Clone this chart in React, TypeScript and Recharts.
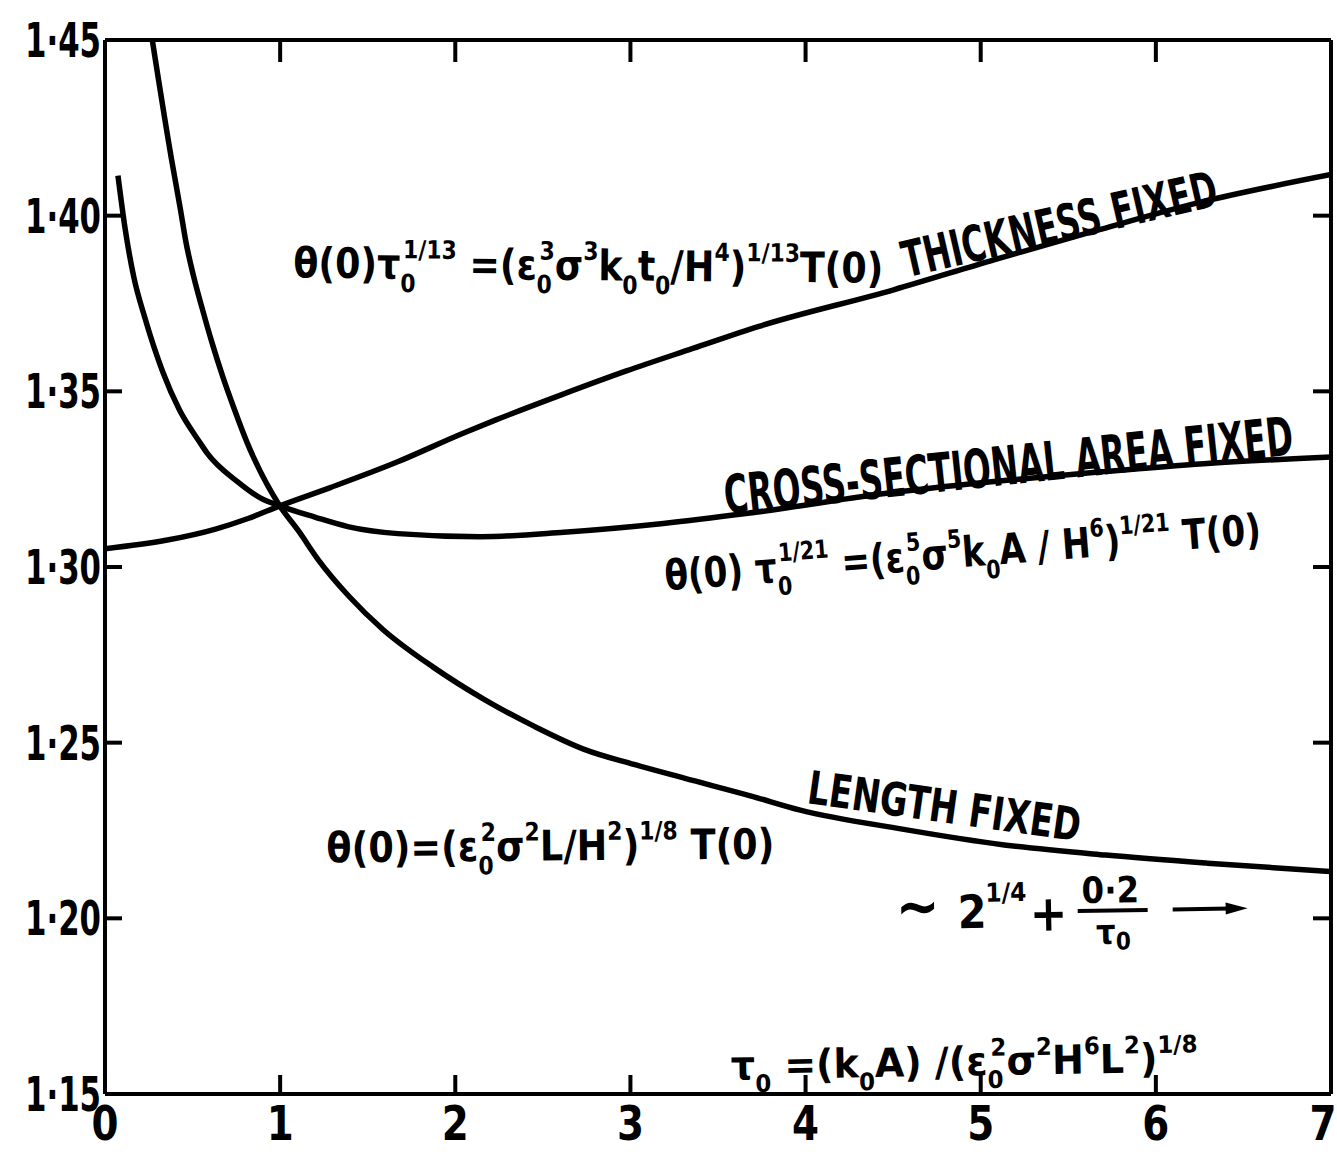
import React from "react";
import { LineChart, Line, XAxis, YAxis, ReferenceDot } from "recharts";

// axis ticks
const xTicks = [0, 1, 2, 3, 4, 5, 6, 7];
const yTicks = [1.15, 1.2, 1.25, 1.3, 1.35, 1.4, 1.45];
const yTickLabels = ["1·15", "1·20", "1·25", "1·30", "1·35", "1·40", "1·45"];

// thickness fixed
const thicknessX = [0, 0.348, 0.631, 0.817, 0.998, 1.286, 1.664, 2.041, 2.228, 2.605, 2.977, 3.356, 3.734, 4.503, 5.08, 5.662, 6.245, 7.0];
const thicknessY = [1.3052, 1.3076, 1.3108, 1.3138, 1.3174, 1.3226, 1.3298, 1.338, 1.3418, 1.349, 1.3558, 1.3622, 1.3685, 1.3789, 1.3875, 1.3958, 1.4037, 1.4117];

// cross-sectional area fixed
const areaX = [0.074, 0.114, 0.165, 0.226, 0.33, 0.424, 0.541, 0.582, 0.756, 0.889, 0.998, 1.198, 1.386, 1.672, 2.144, 2.62, 3.188, 3.659, 4.526, 5.105, 5.689, 6.273, 7.0];
const areaY = [1.4114, 1.3966, 1.3824, 1.3712, 1.3555, 1.3448, 1.3355, 1.3325, 1.3243, 1.3196, 1.3174, 1.3142, 1.3115, 1.3095, 1.3086, 1.3099, 1.3124, 1.3152, 1.3214, 1.3245, 1.3271, 1.3294, 1.3313];

// length fixed
const lengthX = [0.27, 0.38, 0.431, 0.4625, 0.506, 0.556, 0.61, 0.671, 0.737, 0.809, 0.851, 0.998, 1.103, 1.22, 1.394, 1.585, 1.874, 2.162, 2.449, 2.736, 3.021, 3.307, 3.69, 3.97, 4.552, 5.134, 5.714, 6.295, 7.0];
const lengthY = [1.45, 1.416, 1.4017, 1.3924, 1.3827, 1.3734, 1.364, 1.3544, 1.3451, 1.3357, 1.3309, 1.3174, 1.3104, 1.3019, 1.2916, 1.2823, 1.2715, 1.2624, 1.2547, 1.2481, 1.2438, 1.2399, 1.2348, 1.2308, 1.2254, 1.2209, 1.218, 1.2157, 1.2133];

const FONT = "'Liberation Sans Narrow', 'DejaVu Sans Condensed', 'Arial Narrow', sans-serif";

type Tok = { t: string; k?: "sup" | "sub"; back?: number };

// builds tspans with raised / lowered pieces
function toks(list: Tok[], base: number) {
  let cur = 0;
  return list.map((tk, i) => {
    const target = tk.k === "sup" ? -base * 0.48 : tk.k === "sub" ? base * 0.32 : 0;
    const dy = target - cur;
    cur = target;
    return (
      <tspan key={i} dy={dy || undefined} dx={tk.back ? -tk.back : undefined} fontSize={tk.k ? base * 0.6 : base}>
        {tk.t}
      </tspan>
    );
  });
}

const thickEq: Tok[] = [
  { t: "θ(0)τ" }, { t: "0", k: "sub" }, { t: "1/13", k: "sup", back: 13 },
  { t: "  =(ε" }, { t: "0", k: "sub" }, { t: "3", k: "sup", back: 13 },
  { t: "σ" }, { t: "3", k: "sup" }, { t: "k" }, { t: "0", k: "sub" },
  { t: "t" }, { t: "0", k: "sub" }, { t: "/H" }, { t: "4", k: "sup" },
  { t: ")" }, { t: "1/13", k: "sup" }, { t: "T(0)" },
];
const areaEq: Tok[] = [
  { t: "θ(0) τ" }, { t: "0", k: "sub" }, { t: "1/21", k: "sup", back: 13 },
  { t: " =(ε" }, { t: "0", k: "sub" }, { t: "5", k: "sup", back: 13 },
  { t: "σ" }, { t: "5", k: "sup" }, { t: "k" }, { t: "0", k: "sub" },
  { t: "A / H" }, { t: "6", k: "sup" }, { t: ")" }, { t: "1/21", k: "sup" }, { t: " T(0)" },
];
const lengthEq: Tok[] = [
  { t: "θ(0)=(ε" }, { t: "0", k: "sub" }, { t: "2", k: "sup", back: 13 },
  { t: "σ" }, { t: "2", k: "sup" }, { t: "L/H" }, { t: "2", k: "sup" },
  { t: ")" }, { t: "1/8", k: "sup" }, { t: " T(0)" },
];
const tauEq: Tok[] = [
  { t: "τ" }, { t: "0", k: "sub" }, { t: " =(k" }, { t: "0", k: "sub" },
  { t: "A) /(ε" }, { t: "0", k: "sub" }, { t: "2", k: "sup", back: 12 },
  { t: "σ" }, { t: "2", k: "sup" }, { t: "H" }, { t: "6", k: "sup" },
  { t: "L" }, { t: "2", k: "sup" }, { t: ")" }, { t: "1/8", k: "sup" },
];

const Eq = ({ list, size, width }: { list: Tok[]; size: number; width: number }) => (
  <text x={0} y={0} fontFamily={FONT} fontWeight="bold" fontSize={size} fill="#000" textLength={width} lengthAdjust="spacingAndGlyphs">
    {toks(list, size)}
  </text>
);

const Caps = ({ text, size, width }: { text: string; size: number; width: number }) => (
  <text x={0} y={0} fontFamily={FONT} fontWeight="bold" fontSize={size} fill="#000" textLength={width} lengthAdjust="spacingAndGlyphs">
    {text}
  </text>
);

const Asymptote = () => (
  <g fontFamily={FONT} fontWeight="bold" fill="#000">
    <text x={-4} y={-2} fontSize={60} textLength={44} lengthAdjust="spacingAndGlyphs">~</text>
    <text x={58} y={0} fontSize={46}>2</text>
    <text x={86} y={-26} fontSize={26}>1/4</text>
    <text x={130} y={4} fontSize={50}>+</text>
    <text x={211} y={-23} fontSize={36} textAnchor="middle">0·2</text>
    <line x1={178} x2={248} y1={-15} y2={-15} stroke="#000" strokeWidth={4} />
    <text x={196} y={18} fontSize={34}>
      τ<tspan fontSize={24} dy={6}>0</tspan>
    </text>
    <line x1={273} x2={330} y1={-15} y2={-15} stroke="#000" strokeWidth={4} />
    <polygon points="326,-21 348,-15 326,-9" fill="#000" />
  </g>
);

const note = (node: React.ReactNode, angle = 0) => (p: any) => (
  <g transform={`translate(${p.cx},${p.cy}) rotate(${angle})`}>{node}</g>
);

const BottomTick = (props: any) => {
  const { x, y, payload } = props;
  const v = payload.value;
  return (
    <g>
      {v > 0 && v < 7 && <line x1={x} x2={x} y1={y} y2={y - 19} stroke="#000" strokeWidth={4} />}
      <text x={v === 7 ? x - 8 : x} y={y + 46} textAnchor="middle" fontFamily={FONT} fontWeight="bold" fontSize={48} fill="#000" textLength={27} lengthAdjust="spacingAndGlyphs">
        {v}
      </text>
    </g>
  );
};

const TopTick = (props: any) => {
  const { x, y, payload } = props;
  const v = payload.value;
  if (v <= 0 || v >= 7) return <g />;
  return <line x1={x} x2={x} y1={y} y2={y + 22} stroke="#000" strokeWidth={4} />;
};

const LeftTick = (props: any) => {
  const { x, y, payload } = props;
  const v = payload.value;
  const i = yTicks.findIndex((t) => Math.abs(t - v) < 1e-6);
  return (
    <g>
      {v > 1.16 && v < 1.44 && <line x1={x} x2={x + 17} y1={y} y2={y} stroke="#000" strokeWidth={4} />}
      <text x={x - 80} y={y + 17} fontFamily={FONT} fontWeight="bold" fontSize={48} fill="#000" textLength={76} lengthAdjust="spacingAndGlyphs">
        {yTickLabels[i]}
      </text>
    </g>
  );
};

const RightTick = (props: any) => {
  const { x, y, payload } = props;
  const v = payload.value;
  if (v < 1.16 || v > 1.44) return <g />;
  return <line x1={x} x2={x - 18} y1={y} y2={y} stroke="#000" strokeWidth={4} />;
};

const axisStyle = { stroke: "#000", strokeWidth: 4 };

export default function App() {
  const thickness = thicknessX.map((x, i) => ({ x, y: thicknessY[i] }));
  const area = areaX.map((x, i) => ({ x, y: areaY[i] }));
  const length = lengthX.map((x, i) => ({ x, y: lengthY[i] }));

  return (
    <div style={{ position: "absolute", left: 0, top: 0, width: 1337, height: 1163, background: "#fff" }}>
      <LineChart width={1337} height={1163} margin={{ top: 39, right: 5, bottom: 0, left: 0 }}>
        <XAxis
          dataKey="x"
          type="number"
          domain={[0, 7]}
          ticks={xTicks}
          interval={0}
          height={69}
          axisLine={axisStyle}
          tickLine={false}
          tickSize={0}
          tickMargin={0}
          tick={<BottomTick />}
          allowDataOverflow
        />
        <XAxis
          xAxisId="top"
          orientation="top"
          dataKey="x"
          type="number"
          domain={[0, 7]}
          ticks={xTicks}
          interval={0}
          height={1}
          axisLine={axisStyle}
          tickLine={false}
          tickSize={0}
          tickMargin={0}
          tick={<TopTick />}
        />
        <YAxis
          type="number"
          domain={[1.15, 1.45]}
          ticks={yTicks}
          interval={0}
          width={105}
          axisLine={axisStyle}
          tickLine={false}
          tickSize={0}
          tickMargin={0}
          tick={<LeftTick />}
          allowDataOverflow
        />
        <YAxis
          yAxisId="right"
          orientation="right"
          type="number"
          domain={[1.15, 1.45]}
          ticks={yTicks}
          interval={0}
          width={1}
          axisLine={axisStyle}
          tickLine={false}
          tickSize={0}
          tickMargin={0}
          tick={<RightTick />}
        />

        <Line data={thickness} dataKey="y" type="monotone" stroke="#000" strokeWidth={5.5} dot={false} isAnimationActive={false} />
        <Line data={area} dataKey="y" type="monotone" stroke="#000" strokeWidth={5.5} dot={false} isAnimationActive={false} />
        <Line data={length} dataKey="y" type="monotone" stroke="#000" strokeWidth={5.5} dot={false} isAnimationActive={false} />
        <Line xAxisId="top" yAxisId="right" data={thickness} dataKey="y" stroke="none" strokeWidth={0} dot={false} activeDot={false} isAnimationActive={false} />

        <ReferenceDot x={1.075} y={1.3824} r={0} ifOverflow="visible" shape={note(<Eq list={thickEq} size={42} width={590} />, 0.5)} />
        <ReferenceDot x={4.576} y={1.3824} r={0} ifOverflow="visible" shape={note(<Caps text="THICKNESS  FIXED" size={50} width={322} />, -13)} />
        <ReferenceDot x={3.545} y={1.315} r={0} ifOverflow="visible" shape={note(<Caps text="CROSS-SECTIONAL AREA FIXED" size={54} width={572} />, -6)} />
        <ReferenceDot x={3.201} y={1.2933} r={0} ifOverflow="visible" shape={note(<Eq list={areaEq} size={42} width={598} />, -4.5)} />
        <ReferenceDot x={4.003} y={1.2328} r={0} ifOverflow="visible" shape={note(<Caps text="LENGTH  FIXED" size={46} width={275} />, 8)} />
        <ReferenceDot x={1.265} y={1.2159} r={0} ifOverflow="visible" shape={note(<Eq list={lengthEq} size={42} width={448} />, -0.5)} />
        <ReferenceDot x={4.539} y={1.1969} r={0} ifOverflow="visible" shape={note(<Asymptote />, -1)} />
        <ReferenceDot x={3.574} y={1.1541} r={0} ifOverflow="visible" shape={note(<Eq list={tauEq} size={40} width={467} />, -1)} />
      </LineChart>
    </div>
  );
}
